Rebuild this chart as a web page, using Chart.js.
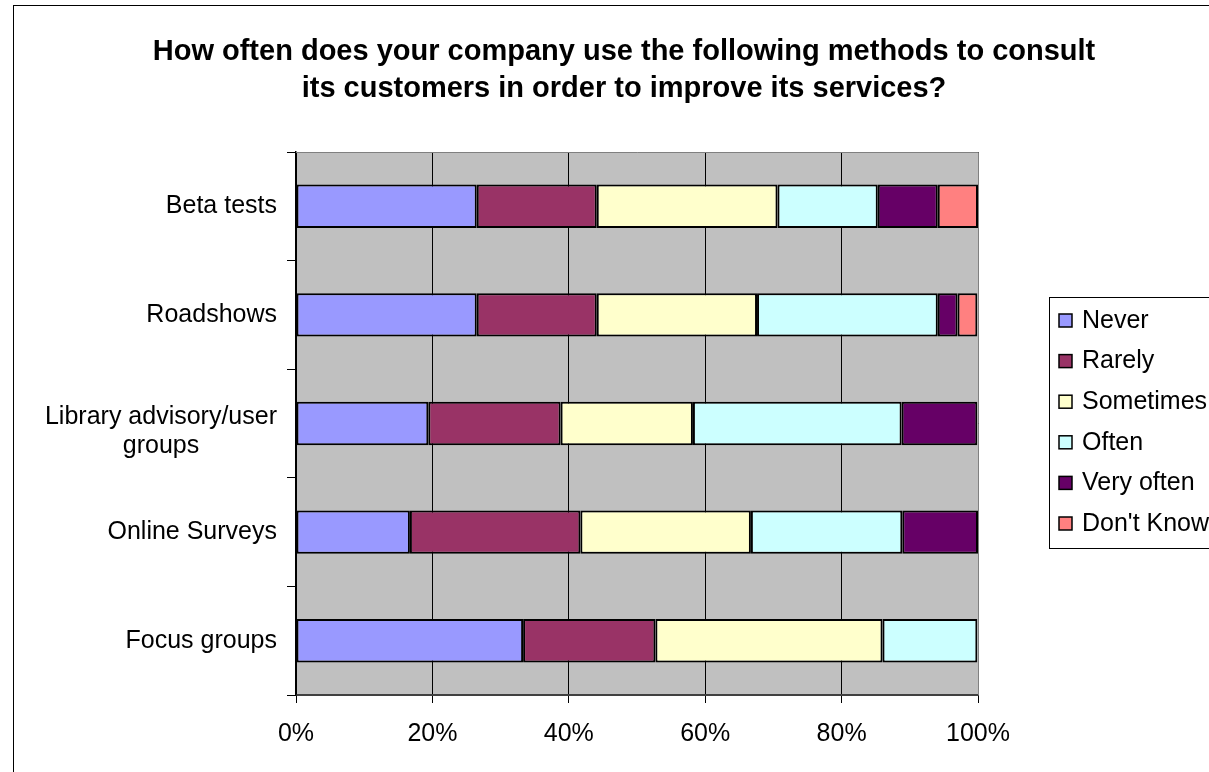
<!DOCTYPE html>
<html>
<head>
<meta charset="utf-8">
<title>Customer consultation methods</title>
<script src="https://cdn.jsdelivr.net/npm/chart.js@4.4.0/dist/chart.umd.min.js"></script>
<style>
  html, body { margin: 0; padding: 0; background: #fff; overflow: hidden; }
  #wrap { position: relative; width: 1209px; height: 772px; }
</style>
</head>
<body>
<div id="wrap"><canvas id="chart" width="1209" height="772"></canvas></div>
<script>
// Survey answers, share of respondents (%) per method
const methods = ['Beta tests', 'Roadshows', ['Library advisory/user', 'groups'], 'Online Surveys', 'Focus groups'];
const never = [26.5, 26.5, 19.4, 16.7, 33.3];
const rarely = [17.6, 17.6, 19.4, 25.0, 19.4];
const sometimes = [26.5, 23.5, 19.4, 25.0, 33.3];
const often = [14.7, 26.5, 30.6, 22.2, 13.9];
const veryOften = [8.8, 2.9, 11.1, 11.1, null];
const dontKnow = [5.9, 2.9, null, null, null];
const xTicks = [0, 20, 40, 60, 80, 100];

const titleLines = [
    'How often does your company use the following methods to consult',
    'its customers in order to improve its services?'
];

const FONT = '"Liberation Sans", Arial, sans-serif';

const series = [
    { label: 'Never', data: never, color: '#9999FF' },
    { label: 'Rarely', data: rarely, color: '#993366' },
    { label: 'Sometimes', data: sometimes, color: '#FFFFCC' },
    { label: 'Often', data: often, color: '#CCFFFF' },
    { label: 'Very often', data: veryOften, color: '#660066' },
    { label: "Don't Know", data: dontKnow, color: '#FF8080' }
];

// Grey plot background, frame, title, category labels and boxed legend
const decorations = {
    id: 'decorations',
    beforeDraw(chart) {
        const { ctx, chartArea: a } = chart;
        ctx.save();
        ctx.fillStyle = '#fff';
        ctx.fillRect(0, 0, chart.width, chart.height);
        ctx.fillStyle = '#C0C0C0';
        ctx.fillRect(a.left, a.top, a.right - a.left, a.bottom - a.top);
        ctx.restore();
    },
    afterDraw(chart) {
        const { ctx, chartArea: a } = chart;
        ctx.save();

        // plot edges (top/right)
        ctx.strokeStyle = '#808080';
        ctx.lineWidth = 1;
        ctx.beginPath();
        ctx.moveTo(a.left, a.top + 0.5);
        ctx.lineTo(a.right + 0.5, a.top + 0.5);
        ctx.lineTo(a.right + 0.5, a.bottom);
        ctx.stroke();

        // outer frame
        ctx.strokeStyle = '#000';
        ctx.strokeRect(13.5, 5.5, 1400, 1000);

        // title
        ctx.fillStyle = '#000';
        ctx.font = 'bold 29px ' + FONT;
        ctx.textAlign = 'center';
        ctx.textBaseline = 'middle';
        ctx.fillText(titleLines[0], 624, 52);
        ctx.fillText(titleLines[1], 624, 89);

        // category labels: block right-aligned, lines centred on each other
        const yScale = chart.scales.y;
        ctx.font = '25px ' + FONT;
        chart.data.labels.forEach((lab, i) => {
            const lines = Array.isArray(lab) ? lab : [lab];
            const w = Math.max(...lines.map(l => ctx.measureText(l).width));
            const cx = 277 - w / 2;
            const cy = yScale.getPixelForValue(i);
            const lh = 29;
            const y0 = cy - (lines.length - 1) * lh / 2 + (lines.length > 1 ? 8 : 0);
            lines.forEach((l, j) => ctx.fillText(l, cx, y0 + j * lh));
        });

        // legend
        const lx = 1049, ly = 297;
        ctx.strokeStyle = '#000';
        ctx.lineWidth = 1;
        ctx.strokeRect(lx + 0.5, ly + 0.5, 400, 251);
        ctx.textAlign = 'left';
        chart.data.datasets.forEach((ds, i) => {
            const cy = 321 + i * 40.6;
            ctx.fillStyle = ds.backgroundColor;
            ctx.fillRect(lx + 10, cy - 7, 13, 13);
            ctx.lineWidth = 1.5;
            ctx.strokeRect(lx + 10, cy - 7, 13, 13);
            ctx.fillStyle = '#000';
            ctx.fillText(ds.label, lx + 33, cy);
        });
        ctx.restore();
    }
};

new Chart(document.getElementById('chart'), {
    type: 'bar',
    data: {
        labels: methods,
        datasets: series.map(s => ({
            label: s.label,
            data: s.data,
            backgroundColor: s.color,
            borderColor: '#000',
            borderWidth: 2,
            borderSkipped: false,
            categoryPercentage: 1,
            barPercentage: 0.4
        }))
    },
    options: {
        indexAxis: 'y',
        responsive: false,
        animation: false,
        layout: { padding: { top: 152, right: 231, left: 0, bottom: 0 } },
        plugins: {
            legend: { display: false },
            title: { display: false },
            tooltip: { enabled: false }
        },
        scales: {
            x: {
                stacked: true,
                min: 0,
                max: 100,
                afterBuildTicks: scale => { scale.ticks = xTicks.map(v => ({ value: v })); },
                afterFit: scale => { scale.height = 77; },
                ticks: {
                    callback: v => v + '%',
                    color: '#000',
                    font: { family: FONT, size: 25 },
                    padding: 16,
                    maxRotation: 0
                },
                grid: { color: '#000', lineWidth: 1, tickLength: 8, tickColor: '#000' },
                border: { color: '#404040', width: 2 }
            },
            y: {
                stacked: true,
                afterFit: scale => { scale.width = 296; },
                ticks: { display: false },
                grid: { drawOnChartArea: false, tickLength: 9, tickColor: '#000', offset: true },
                border: { color: '#000', width: 1.5 }
            }
        }
    },
    plugins: [decorations]
});
</script>
</body>
</html>
